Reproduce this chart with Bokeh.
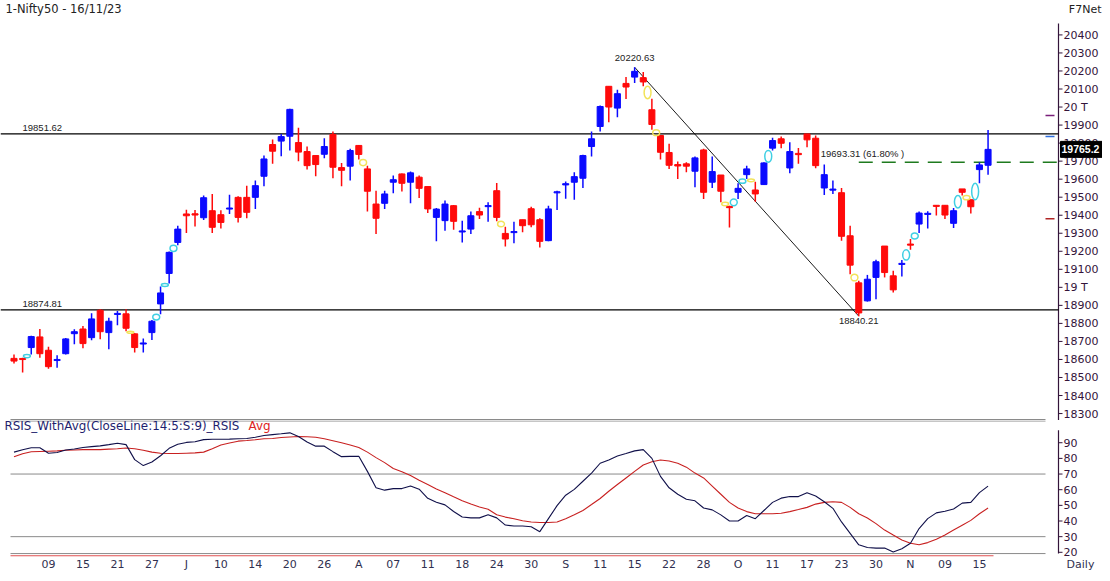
from bokeh.plotting import figure
from bokeh.models import Range1d, FixedTicker, Label, ColumnDataSource
from bokeh.layouts import column
from bokeh.core.properties import value
from bokeh.embed import file_html
from bokeh.resources import INLINE

# ---------------- data ----------------
opens = [18606, 18604, 18666, 18725, 18651, 18595, 18632, 18743, 18769, 18721,
         18873, 18749, 18850, 18853, 18742, 18686, 18749, 18908, 19077, 19249,
         19407, 19408, 19386, 19425, 19403, 19434, 19499, 19499, 19499, 19616,
         19792, 19811, 19838, 19803, 19753, 19731, 19738, 19848, 19664, 19672,
         19787, 19657, 19462, 19466, 19583, 19629, 19583, 19611, 19559, 19388,
         19370, 19453, 19308, 19323, 19420, 19448, 19536, 19299, 19305, 19375,
         19436, 19375, 19259, 19525, 19568, 19583, 19605, 19781, 19892, 20115,
         19994, 20131, 20166, 20163, 19985, 19842, 19748, 19681, 19685, 19644,
         19762, 19583, 19623, 19449, 19527, 19625, 19540, 19570, 19772, 19824,
         19662, 19743, 19851, 19827, 19551, 19540, 19525, 19286, 19025, 18925,
         19055, 19229, 19064, 19127, 19240, 19351, 19405, 19455, 19455, 19355,
         19546, 19486, 19653, 19677]
highs = [18628, 18610, 18732, 18769, 18671, 18623, 18719, 18767, 18786, 18856,
         18878, 18832, 18869, 18879, 18745, 18716, 18819, 19005, 19199, 19342,
         19431, 19429, 19509, 19518, 19427, 19514, 19505, 19564, 19592, 19731,
         19820, 19851, 19991, 19885, 19781, 19731, 19827, 19864, 19690, 19768,
         19790, 19675, 19536, 19536, 19620, 19632, 19642, 19620, 19559, 19440,
         19481, 19457, 19370, 19420, 19442, 19472, 19579, 19336, 19364, 19375,
         19447, 19383, 19453, 19536, 19587, 19638, 19735, 19864, 20009, 20115,
         20096, 20166, 20220.63, 20194, 20046, 19842, 19796, 19698, 19694, 19725,
         19768, 19725, 19623, 19453, 19577, 19675, 19586, 19694, 19829, 19837,
         19805, 19773, 19851, 19842, 19681, 19592, 19551, 19342, 19036, 19069,
         19153, 19229, 19092, 19151, 19268, 19420, 19422, 19455, 19455, 19440,
         19546, 19486, 19694, 19873]
lows = [18577, 18527, 18628, 18610, 18549, 18554, 18628, 18684, 18662, 18706,
        18712, 18656, 18790, 18756, 18638, 18638, 18708, 18851, 19021, 19234,
        19301, 19338, 19373, 19301, 19327, 19407, 19360, 19383, 19435, 19561,
        19685, 19727, 19759, 19700, 19653, 19616, 19716, 19605, 19561, 19592,
        19709, 19420, 19296, 19435, 19522, 19531, 19466, 19496, 19412, 19255,
        19314, 19320, 19249, 19296, 19379, 19364, 19366, 19227, 19244, 19305,
        19333, 19221, 19255, 19429, 19491, 19486, 19551, 19725, 19864, 19916,
        19944, 20044, 20133, 20115, 19874, 19709, 19657, 19601, 19638, 19555,
        19490, 19551, 19472, 19332, 19490, 19601, 19475, 19568, 19759, 19772,
        19633, 19685, 19777, 19661, 19512, 19518, 19258, 19073, 18840.21, 18921,
        18934, 19055, 18971, 19060, 19208, 19301, 19327, 19399, 19379, 19329,
        19509, 19410, 19577, 19625]
closes = [18591, 18601, 18727, 18632, 18560, 18599, 18714, 18754, 18688, 18825,
          18754, 18812, 18855, 18773, 18666, 18691, 18812, 18969, 19194, 19323,
          19397, 19401, 19497, 19333, 19360, 19440, 19388, 19416, 19564, 19712,
          19755, 19836, 19987, 19750, 19675, 19681, 19781, 19666, 19649, 19759,
          19737, 19533, 19383, 19518, 19597, 19577, 19635, 19549, 19435, 19434,
          19462, 19366, 19312, 19397, 19401, 19453, 19388, 19268, 19308, 19342,
          19347, 19255, 19435, 19529, 19575, 19614, 19731, 19824, 20003, 20000,
          20074, 20111, 20198, 20139, 19903, 19749, 19677, 19673, 19672, 19718,
          19527, 19642, 19533, 19442, 19549, 19657, 19518, 19690, 19814, 19799,
          19753, 19736, 19818, 19675, 19625, 19544, 19283, 19123, 18858, 19045,
          19142, 19082, 18986, 19133, 19234, 19412, 19410, 19449, 19401, 19425,
          19527, 19447, 19679, 19765.2]

rsi = [84, 85.5, 86.8, 86.8, 83.3, 83.8, 85.4, 86, 87, 87.5,
       88, 88.8, 89.7, 88.8, 79.2, 75.4, 77.7, 81.7, 86.4, 89,
       90.2, 90.6, 92, 92.2, 92.2, 92.3, 92.5, 92.7, 93.5, 94.6,
       95.2, 95.7, 96.3, 94, 90.5, 87.8, 87.8, 84.3, 81.1, 81.3,
       81.3, 71.7, 61.3, 59.7, 60.7, 60.7, 62.4, 60.3, 54.5, 52,
       50.3, 46.1, 42.6, 42, 42, 44, 42, 37.4, 36.8, 36.8,
       36.3, 33.2, 41.5, 49.8, 56.5, 60.2, 65.4, 70.6, 76.9, 79,
       81.5, 83.1, 84.8, 85.6, 80, 68.5, 61.2, 57.1, 53.9, 52.9,
       48.3, 47.1, 43.9, 40, 40, 43.5, 41.5, 46.7, 51.9, 54.6,
       55.6, 55.6, 58.1, 56, 52.3, 48.1, 39.4, 32.1, 24.8, 23.1,
       22.7, 22.7, 20.2, 22.3, 25.8, 35.2, 41.5, 45.2, 46.2, 47.7,
       51.4, 51.9, 58.1, 62.3]
rsi_avg = [81, 83, 84.2, 84.4, 84.6, 84.8, 85.2, 85.4, 85.6, 85.6,
           85.6, 85.9, 86.2, 86.6, 86.2, 85.2, 84, 83.3, 83.1, 83.1,
           83.3, 83.5, 84, 86.2, 88.5, 89.8, 91, 91.4, 91.9, 92.5,
           92.7, 93.3, 93.7, 94, 93.8, 93.5, 92.5, 91.3, 90, 88.5,
           86.9, 84, 80.5, 77.3, 73.5, 71.5, 69, 66, 63.3, 60.5,
           58.1, 55.5, 53, 50.8, 49, 47.5, 44, 42.5, 41.4, 40.2,
           39.4, 39, 39, 39.4, 41.5, 44, 46.7, 50.5, 54.4, 59,
           63.3, 67.5, 71.7, 75.8, 77.9, 79, 78.3, 76.9, 74.4, 70.6,
           67.5, 62.3, 57.1, 51.9, 48.3, 46, 44.6, 44.6, 44.6, 45,
           46, 47.3, 48.7, 50.8, 51.9, 52.3, 51.9, 48.7, 44.6, 41.9,
           38.3, 34.2, 31, 27.9, 25.8, 24.8, 26.2, 28.3, 31, 34.2,
           37.3, 40.4, 44.6, 48.3]

tick_idx = [4, 8, 12, 16, 20, 24, 28, 32, 36, 40, 44, 48, 52, 56, 60, 64,
            68, 72, 76, 80, 84, 88, 92, 96, 100, 104, 108, 112]
tick_labels = ["09", "15", "21", "27", "J", "10", "14", "20", "26", "A", "07", "11",
               "18", "24", "30", "S", "11", "15", "22", "28", "O", "11", "17", "23",
               "30", "N", "09", "15"]
price_ticks = [18300, 18400, 18500, 18600, 18700, 18800, 18900, 19000, 19100, 19200,
               19300, 19400, 19500, 19600, 19700, 19800, 19900, 20000, 20100, 20200,
               20300, 20400]
price_tick_text = {19000: "19 T", 20000: "20 T"}
rsi_ticks = [20, 30, 40, 50, 60, 70, 80, 90]
rsi_bands = [70, 30]

level_hi = 19851.62
level_lo = 18874.81
swing_hi_idx = 72
swing_lo_idx = 98
fib_ratio = 0.618
gap_after = [1, 13, 16, 17, 18, 40, 56, 73, 74, 82, 83, 84, 85, 87, 97, 103, 104,
             109, 110, 111]
pivot_levels = [19953, 19836, 19381]
pivot_colors = ["#7a1f7a", "#2f6fe0", "#b02525"]

# ---------------- layout (pixel geometry) ----------------
W = 1102
H_PRICE = 420
H_RSI = 153
RSI_FRAME = 139
PXB = 8.62                       # pixels per bar
X0 = -13.5 / PXB
X1 = X0 + W / PXB
PPP = 0.1803                     # pixels per index point
Y1 = 20590.9
Y0 = Y1 - H_PRICE / PPP
RPP = 1.6                        # pixels per RSI unit
R1 = 104.2
R0 = R1 - RSI_FRAME / RPP


def px_x(px):
    return X0 + px / PXB


def px_p(py):
    return Y1 - py / PPP


def px_r(py):
    return R1 - (py - H_PRICE) / RPP


AXIS_X = px_x(1058)
UP = "#0a0aff"
DN = "#ff0a0a"
AX = "#33143a"
FONT = "DejaVu Sans"

n = len(closes)
idx = list(range(n))
cols = [UP if c >= o else DN for o, c in zip(opens, closes)]
btop, bbot = [], []
for o, c in zip(opens, closes):
    t, b = max(o, c), min(o, c)
    if t - b < 6:
        m = (t + b) / 2
        t, b = m + 3, m - 3
    btop.append(t)
    bbot.append(b)

src = ColumnDataSource(dict(x=idx, o=opens, h=highs, l=lows, c=closes,
                            top=btop, bot=bbot, col=cols))

# ---------------- price panel ----------------
p = figure(width=W, height=H_PRICE, x_range=Range1d(X0, X1), y_range=Range1d(Y0, Y1),
           output_backend="svg", toolbar_location=None, x_axis_location=None,
           y_axis_location=None, min_border=0)
p.xgrid.visible = False
p.ygrid.visible = False
p.outline_line_color = None

# panel border at the bottom
p.segment(x0=[px_x(10)], x1=[px_x(1045)], y0=[px_p(419)], y1=[px_p(419)],
          line_color="#8a8a8a", line_width=1)

# price scale on the right
p.segment(x0=[AXIS_X], x1=[AXIS_X], y0=[px_p(23)], y1=[Y0], line_color=AX, line_width=1.2)
p.segment(x0=[AXIS_X] * len(price_ticks), x1=[px_x(1062)] * len(price_ticks),
          y0=price_ticks, y1=price_ticks, line_color=AX, line_width=1)
p.text(x=[px_x(1063)] * len(price_ticks), y=price_ticks,
       text=[price_tick_text.get(t, str(t)) for t in price_ticks],
       text_font=value(FONT), text_font_size=value("11px"), text_color=AX,
       text_baseline="middle", text_align="left")

# horizontal levels
for lv in (level_hi, level_lo):
    p.segment(x0=[X0], x1=[AXIS_X], y0=[lv], y1=[lv], line_color="black", line_width=1.3)
    p.add_layout(Label(x=px_x(22), y=lv, y_offset=3, text=f"{lv:.2f}",
                       text_font="Liberation Sans", text_font_size="9.5px",
                       text_color="#222222", text_baseline="bottom"))

# swing line + fib level
sh = highs[swing_hi_idx]
sl = lows[swing_lo_idx]
fib = sl + fib_ratio * (sh - sl)
p.line([swing_hi_idx, swing_lo_idx], [sh, sl], line_color="black", line_width=0.9)
p.segment(x0=[swing_lo_idx], y0=[fib], x1=[AXIS_X], y1=[fib], line_color="#1e7a1e",
          line_width=1.5, line_dash="14 9")
p.add_layout(Label(x=swing_lo_idx, x_offset=-38, y=fib, y_offset=3,
                   text=f"{fib:.2f} ({fib_ratio*100:.2f}% )", text_font="Liberation Sans",
                   text_font_size="9.5px", text_color="#222222", text_baseline="bottom"))
p.add_layout(Label(x=swing_hi_idx, y=sh, y_offset=6, text=f"{sh:.2f}",
                   text_font="Liberation Sans", text_font_size="9.5px", text_color="#222222",
                   text_align="center", text_baseline="bottom"))
p.add_layout(Label(x=swing_lo_idx, y=sl, y_offset=-2, text=f"{sl:.2f}",
                   text_font="Liberation Sans", text_font_size="9.5px", text_color="#222222",
                   text_align="center", text_baseline="top"))

# candles
p.segment(x0="x", y0="l", x1="x", y1="h", source=src, line_color="col", line_width=1.5)
p.vbar(x="x", width=0.7, top="top", bottom="bot", source=src, fill_color="col",
       line_color="col", line_width=1)

# gap markers
gx, gy, gh, gc = [], [], [], []
for i in gap_after:
    if lows[i + 1] > highs[i]:
        a, b, c = highs[i], lows[i + 1], "#3fcfe3"
    else:
        a, b, c = lows[i], highs[i + 1], "#f2e35a"
    gx.append(i + 0.5)
    gy.append((a + b) / 2)
    gh.append(max(abs(b - a), 9))
    gc.append(c)
p.ellipse(x=gx, y=gy, width=0.8, height=gh, fill_alpha=0, line_color=gc, line_width=1.5)

# pivot ticks at the right
p.segment(x0=[px_x(1045)] * 3, y0=pivot_levels, x1=[px_x(1054)] * 3, y1=pivot_levels,
          line_color=pivot_colors, line_width=1.5)

# last price box
last = closes[-1]
p.quad(left=[px_x(1060)], right=[X1 + 1], bottom=[last - 8 / PPP], top=[last + 8 / PPP],
       fill_color="black", line_color="black")
p.text(x=[px_x(1061)], y=[last], text=[f"{last}"], text_font=value("Liberation Sans"),
       text_font_size=value("10.5px"), text_font_style="bold", text_color="white",
       text_baseline="middle")

# texts
p.add_layout(Label(x=px_x(5), y=px_p(8), text="1-Nifty50 - 16/11/23", text_font=FONT,
                   text_font_size="11.5px", text_color="#222222", text_baseline="middle"))
p.add_layout(Label(x=px_x(1101), y=px_p(9), text="F7Net", text_font=FONT,
                   text_font_size="11px", text_color="#222222", text_align="right",
                   text_baseline="middle"))

# ---------------- RSI panel ----------------
r = figure(width=W, height=H_RSI, x_range=p.x_range, y_range=Range1d(R0, R1),
           output_backend="svg", toolbar_location=None, y_axis_location=None,
           min_border_left=0, min_border_right=0, min_border_top=0,
           min_border_bottom=H_RSI - RSI_FRAME)
r.xgrid.visible = False
r.ygrid.visible = False
r.outline_line_color = None

gl_y = [px_r(420.5)] + rsi_bands + [px_r(556)]
r.segment(x0=[px_x(10)] * 4, x1=[px_x(1045)] * 4, y0=gl_y, y1=gl_y,
          line_color="#8a8a8a", line_width=1)
r.segment(x0=[px_x(10)], x1=[px_x(993)], y0=[R0 + 0.4], y1=[R0 + 0.4],
          line_color="#e05050", line_width=1.2)
r.line(idx, rsi_avg, line_color="#c82020", line_width=1.1)
r.line(idx, rsi, line_color="#10104a", line_width=1.1)

# RSI scale on the right
r.segment(x0=[AXIS_X], x1=[AXIS_X], y0=[px_r(430)], y1=[px_r(556)], line_color=AX,
          line_width=1.2)
r.segment(x0=[AXIS_X] * len(rsi_ticks), x1=[px_x(1062)] * len(rsi_ticks),
          y0=rsi_ticks, y1=rsi_ticks, line_color=AX, line_width=1)
r.text(x=[px_x(1063)] * len(rsi_ticks), y=rsi_ticks, text=[str(t) for t in rsi_ticks],
       text_font=value(FONT), text_font_size=value("11px"), text_color=AX,
       text_baseline="middle", text_align="left")

xa = r.xaxis[0]
daily_x = px_x(1080)
xa.ticker = FixedTicker(ticks=tick_idx + [daily_x])
ovr = {t: s for t, s in zip(tick_idx, tick_labels)}
ovr[daily_x] = "Daily"
xa.major_label_overrides = ovr
xa.axis_line_color = None
xa.major_tick_line_color = None
xa.major_tick_out = 0
xa.major_tick_in = 0
xa.minor_tick_line_color = None
xa.minor_tick_out = 0
xa.major_label_text_color = "#303050"
xa.major_label_text_font = FONT
xa.major_label_text_font_size = "11px"
xa.major_label_standoff = 1

r.add_layout(Label(x=px_x(4), y=px_r(426), text="RSIS_WithAvg(CloseLine:14:5:S:9)_RSIS",
                   text_font=FONT, text_font_size="11.9px", text_color="#1e1e6e",
                   text_baseline="middle"))
r.add_layout(Label(x=px_x(248), y=px_r(426), text="Avg", text_font=FONT,
                   text_font_size="11.9px", text_color="#dd2222", text_baseline="middle"))

layout = column(p, r)
open("out.html", "w").write(file_html(layout, INLINE))
